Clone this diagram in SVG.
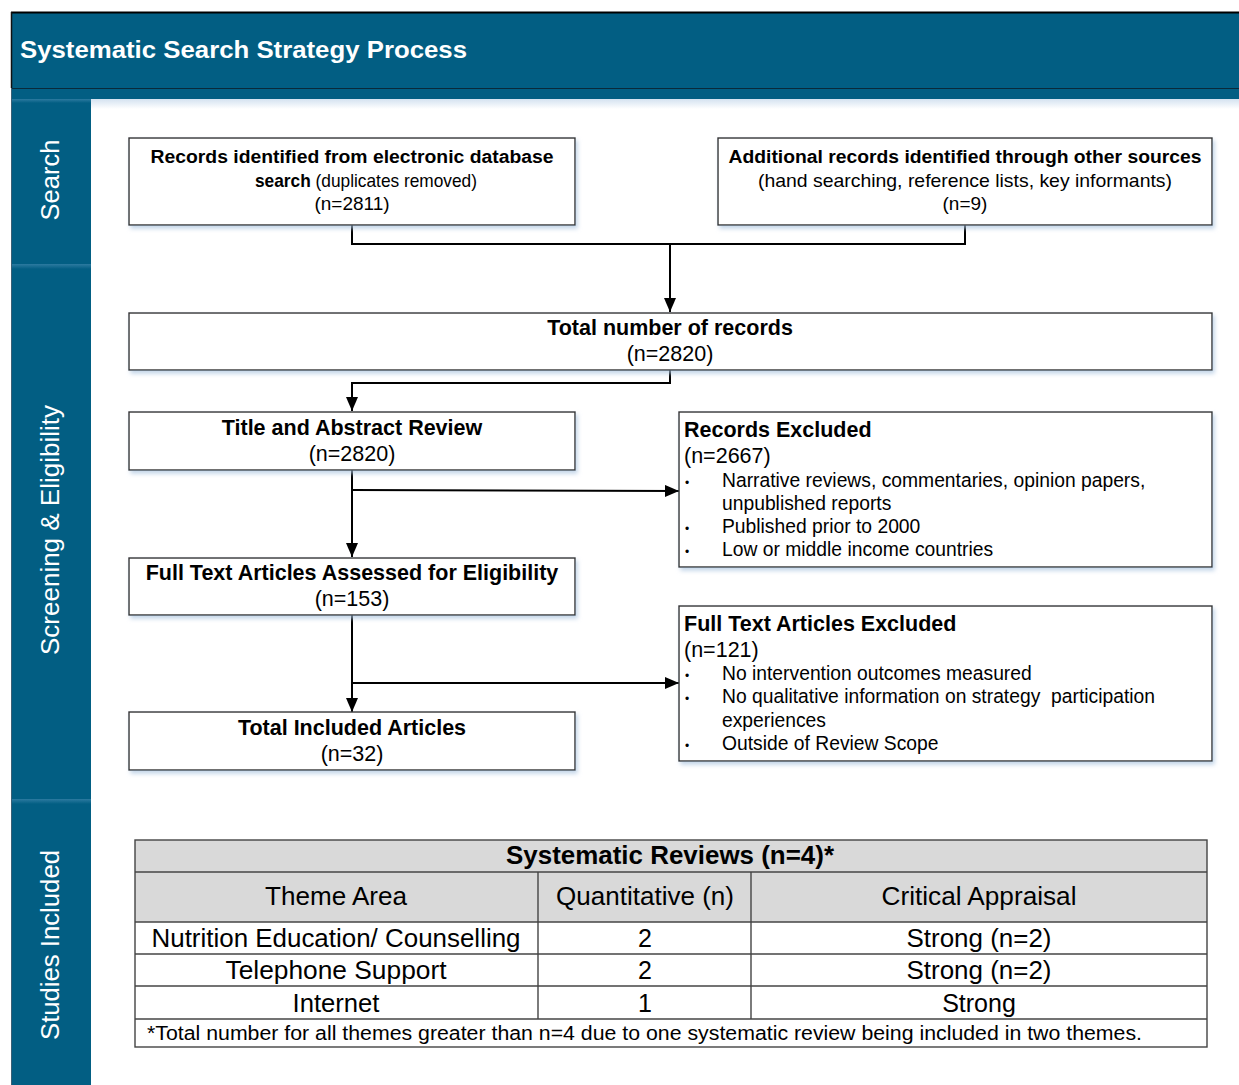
<svg xmlns="http://www.w3.org/2000/svg" width="1239" height="1085" viewBox="0 0 1239 1085">
<style>
text{font-family:"Liberation Sans",Arial,sans-serif;fill:#000}
.b{font-weight:bold}
.w{fill:#fff}
.box{fill:#fff;stroke:#333;stroke-width:1.4}
.ln{fill:none;stroke:#000;stroke-width:2}
.tb{fill:none;stroke:#444;stroke-width:1.4}
.c{text-anchor:middle}
.h{font-size:21.5px}
.it{font-size:19.3px}
.bu{font-size:12px}
.t{font-size:25px}
</style>
<defs>
<marker id="ah" viewBox="0 0 14 12" refX="14" refY="6" markerWidth="14" markerHeight="12" markerUnits="userSpaceOnUse" orient="auto">
<path d="M0,0 L14,6 L0,12 Z" fill="#000"/>
</marker>
<filter id="sh" x="-5%" y="-10%" width="110%" height="130%">
<feDropShadow dx="2" dy="3" stdDeviation="2" flood-color="#a9c3df" flood-opacity="0.7"/>
</filter>
<linearGradient id="fade" x1="0" y1="0" x2="0" y2="1">
<stop offset="0" stop-color="#d4e2f0"/><stop offset="1" stop-color="#fff"/>
</linearGradient>
<linearGradient id="sep" x1="0" y1="0" x2="0" y2="1">
<stop offset="0" stop-color="#2c7aa0"/><stop offset="1" stop-color="#025e83"/>
</linearGradient>
</defs>

<g id="header">
<rect x="91" y="99" width="1148" height="10" fill="url(#fade)"/>
<rect x="11" y="12" width="1230" height="87" fill="#025e83"/>
<line x1="11" y1="12.5" x2="1239" y2="12.5" stroke="#000" stroke-width="2"/>
<line x1="11.5" y1="12" x2="11.5" y2="88" stroke="#111" stroke-width="1.5"/>
<line x1="11" y1="88.5" x2="1239" y2="88.5" stroke="#0a2a3a" stroke-width="1.2"/>
<text x="20" y="58" class="b w" font-size="24" textLength="447" lengthAdjust="spacingAndGlyphs">Systematic Search Strategy Process</text>
</g>

<g id="band">
<rect x="11" y="99" width="80" height="986" fill="#025e83"/>
<rect x="11" y="99" width="80" height="4" fill="url(#sep)"/>
<rect x="11" y="264" width="80" height="5" fill="url(#sep)"/>
<rect x="11" y="799" width="80" height="5" fill="url(#sep)"/>
<line x1="11.5" y1="88" x2="11.5" y2="1085" stroke="#3b5f75" stroke-width="1"/>
<text transform="translate(59,180) rotate(-90)" class="w c" font-size="25.5">Search</text>
<text transform="translate(59,530) rotate(-90)" class="w c" font-size="25.5" textLength="250" lengthAdjust="spacingAndGlyphs">Screening &amp; Eligibility</text>
<text transform="translate(59,945) rotate(-90)" class="w c" font-size="25.5" textLength="190" lengthAdjust="spacingAndGlyphs">Studies Included</text>
</g>

<g id="connectors">
<polyline class="ln" points="352,225 352,244 965,244 965,225"/>
<line class="ln" x1="670" y1="244" x2="670" y2="312" marker-end="url(#ah)"/>
<polyline class="ln" points="670,370 670,383 352,383 352,411" marker-end="url(#ah)"/>
<line class="ln" x1="352" y1="470" x2="352" y2="557" marker-end="url(#ah)"/>
<line class="ln" x1="352" y1="490" x2="679" y2="491" marker-end="url(#ah)"/>
<line class="ln" x1="352" y1="615" x2="352" y2="712" marker-end="url(#ah)"/>
<line class="ln" x1="352" y1="683" x2="679" y2="683" marker-end="url(#ah)"/>
</g>

<g id="n-database">
<rect class="box" x="129" y="138" width="446" height="87" filter="url(#sh)"/>
<text x="352" y="163" class="b c" font-size="17.5" textLength="403" lengthAdjust="spacingAndGlyphs">Records identified from electronic database</text>
<text x="366" y="187" class="c" font-size="18.5" textLength="222" lengthAdjust="spacingAndGlyphs"><tspan class="b">search</tspan> (duplicates removed)</text>
<text x="352" y="210" class="c" font-size="19">(n=2811)</text>
</g>

<g id="n-other">
<rect class="box" x="718" y="138" width="494" height="87" filter="url(#sh)"/>
<text x="965" y="163" class="b c" font-size="17.5" textLength="473" lengthAdjust="spacingAndGlyphs">Additional records identified through other sources</text>
<text x="965" y="187" class="c" font-size="18.5" textLength="414" lengthAdjust="spacingAndGlyphs">(hand searching, reference lists, key informants)</text>
<text x="965" y="210" class="c" font-size="19">(n=9)</text>
</g>

<g id="n-total">
<rect class="box" x="129" y="313" width="1083" height="57" filter="url(#sh)"/>
<text x="670" y="335" class="b c h">Total number of records</text>
<text x="670" y="361" class="c h">(n=2820)</text>
</g>

<g id="n-title">
<rect class="box" x="129" y="412" width="446" height="58" filter="url(#sh)"/>
<text x="352" y="435" class="b c h">Title and Abstract Review</text>
<text x="352" y="461" class="c h">(n=2820)</text>
</g>

<g id="n-excl1">
<rect class="box" x="679" y="412" width="533" height="155" filter="url(#sh)"/>
<text x="684" y="437" class="b h">Records Excluded</text>
<text x="684" y="463" class="h">(n=2667)</text>
<text x="685" y="487" class="bu">•</text>
<text x="722" y="487" class="it">Narrative reviews, commentaries, opinion papers,</text>
<text x="722" y="510" class="it">unpublished reports</text>
<text x="685" y="533" class="bu">•</text>
<text x="722" y="533" class="it">Published prior to 2000</text>
<text x="685" y="556" class="bu">•</text>
<text x="722" y="556" class="it">Low or middle income countries</text>
</g>

<g id="n-fulltext">
<rect class="box" x="129" y="558" width="446" height="57" filter="url(#sh)"/>
<text x="352" y="580" class="b c h">Full Text Articles Assessed for Eligibility</text>
<text x="352" y="606" class="c h">(n=153)</text>
</g>

<g id="n-excl2">
<rect class="box" x="679" y="606" width="533" height="155" filter="url(#sh)"/>
<text x="684" y="631" class="b h">Full Text Articles Excluded</text>
<text x="684" y="657" class="h">(n=121)</text>
<text x="685" y="680" class="bu">•</text>
<text x="722" y="680" class="it">No intervention outcomes measured</text>
<text x="685" y="703" class="bu">•</text>
<text x="722" y="703" class="it" xml:space="preserve">No qualitative information on strategy  participation</text>
<text x="722" y="727" class="it">experiences</text>
<text x="685" y="750" class="bu">•</text>
<text x="722" y="750" class="it">Outside of Review Scope</text>
</g>

<g id="n-included">
<rect class="box" x="129" y="712" width="446" height="58" filter="url(#sh)"/>
<text x="352" y="735" class="b c h">Total Included Articles</text>
<text x="352" y="761" class="c h">(n=32)</text>
</g>

<g id="table">
<rect x="135" y="840" width="1072" height="82" fill="#d9d9d9"/>
<rect x="135" y="922" width="1072" height="125" fill="#fff"/>
<rect class="tb" x="135" y="840" width="1072" height="207"/>
<line class="tb" x1="135" y1="872" x2="1207" y2="872"/>
<line class="tb" x1="135" y1="922" x2="1207" y2="922"/>
<line class="tb" x1="135" y1="954" x2="1207" y2="954"/>
<line class="tb" x1="135" y1="986" x2="1207" y2="986"/>
<line class="tb" x1="135" y1="1019" x2="1207" y2="1019"/>
<line class="tb" x1="538" y1="872" x2="538" y2="1019"/>
<line class="tb" x1="751" y1="872" x2="751" y2="1019"/>
<text x="670" y="864" class="b c t" textLength="328" lengthAdjust="spacingAndGlyphs">Systematic Reviews (n=4)*</text>
<text x="336" y="905" class="c t" textLength="142" lengthAdjust="spacingAndGlyphs">Theme Area</text>
<text x="645" y="905" class="c t" textLength="178" lengthAdjust="spacingAndGlyphs">Quantitative (n)</text>
<text x="979" y="905" class="c t" textLength="195" lengthAdjust="spacingAndGlyphs">Critical Appraisal</text>
<text x="336" y="947" class="c t" textLength="369" lengthAdjust="spacingAndGlyphs">Nutrition Education/ Counselling</text>
<text x="645" y="947" class="c t">2</text>
<text x="979" y="947" class="c t" textLength="145" lengthAdjust="spacingAndGlyphs">Strong (n=2)</text>
<text x="336" y="979" class="c t" textLength="221" lengthAdjust="spacingAndGlyphs">Telephone Support</text>
<text x="645" y="979" class="c t">2</text>
<text x="979" y="979" class="c t" textLength="145" lengthAdjust="spacingAndGlyphs">Strong (n=2)</text>
<text x="336" y="1012" class="c t" textLength="87" lengthAdjust="spacingAndGlyphs">Internet</text>
<text x="645" y="1012" class="c t">1</text>
<text x="979" y="1012" class="c t">Strong</text>
<text x="147" y="1040" font-size="20" textLength="995" lengthAdjust="spacingAndGlyphs">*Total number for all themes greater than n=4 due to one systematic review being included in two themes.</text>
</g>
</svg>
